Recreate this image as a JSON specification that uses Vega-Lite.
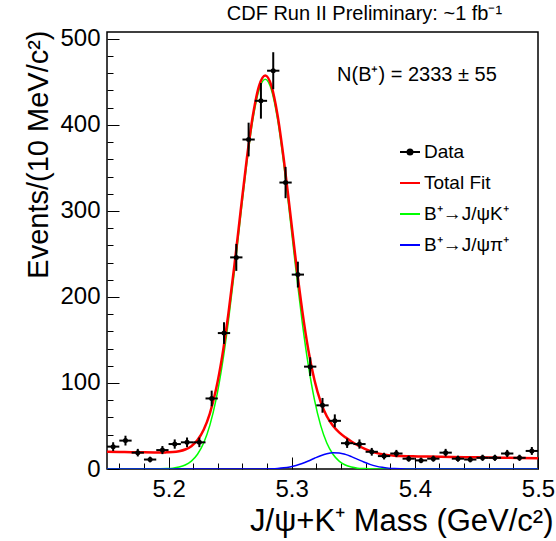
{
  "$schema": "https://vega.github.io/schema/vega-lite/v6.json",
  "width": 431,
  "height": 437,
  "autosize": {"type": "none"},
  "padding": {"left": 107, "top": 32, "right": 18, "bottom": 72},
  "background": "white",
  "config": {
    "font": "Liberation Sans",
    "view": {"stroke": "black", "strokeWidth": 1.5},
    "axis": {"domain": false, "grid": false, "labelFont": "Liberation Sans", "titleFont": "Liberation Sans", "labelColor": "black", "titleColor": "black", "tickColor": "black", "titleFontWeight": "normal", "labelOverlap": false, "tickWidth": 1}
  },
  "resolve": {"axis": {"x": "independent", "y": "independent"}},
  "datasets": {
    "sig": [
      {"m": 5.15, "v": 0}, {"m": 5.1885, "v": 0.07}, {"m": 5.1935, "v": 0.18}, {"m": 5.1985, "v": 0.45}, {"m": 5.2035, "v": 1.0}, {"m": 5.2085, "v": 2.3}, {"m": 5.2135, "v": 4.7}, {"m": 5.2185, "v": 9.2}, {"m": 5.2235, "v": 17.2}, {"m": 5.2285, "v": 30.3}, {"m": 5.2335, "v": 50.7}, {"m": 5.2385, "v": 80.3}, {"m": 5.2435, "v": 120.4}, {"m": 5.2485, "v": 171.1}, {"m": 5.2535, "v": 230.4}, {"m": 5.2585, "v": 293.9}, {"m": 5.2635, "v": 355.1}, {"m": 5.2685, "v": 406.6}, {"m": 5.2735, "v": 440.9}, {"m": 5.2785, "v": 453},
      {"m": 5.2835, "v": 440.9}, {"m": 5.2885, "v": 406.6}, {"m": 5.2935, "v": 355.1}, {"m": 5.2985, "v": 293.9}, {"m": 5.3035, "v": 230.4}, {"m": 5.3085, "v": 171.1}, {"m": 5.3135, "v": 120.4}, {"m": 5.3185, "v": 80.3}, {"m": 5.3235, "v": 50.7}, {"m": 5.3285, "v": 30.3}, {"m": 5.3335, "v": 17.2}, {"m": 5.3385, "v": 9.2}, {"m": 5.3435, "v": 4.7}, {"m": 5.3485, "v": 2.3}, {"m": 5.3535, "v": 1.0}, {"m": 5.3585, "v": 0.45}, {"m": 5.3635, "v": 0.18}, {"m": 5.3685, "v": 0.07}, {"m": 5.3735, "v": 0.03}, {"m": 5.3785, "v": 0}, {"m": 5.5, "v": 0}
    ],
    "pi": [
      {"m": 5.15, "v": 0}, {"m": 5.2685, "v": 0.02}, {"m": 5.2735, "v": 0.06}, {"m": 5.2785, "v": 0.14}, {"m": 5.2835, "v": 0.32}, {"m": 5.2885, "v": 0.68}, {"m": 5.2935, "v": 1.33}, {"m": 5.2985, "v": 2.43}, {"m": 5.3035, "v": 4.11}, {"m": 5.3085, "v": 6.43}, {"m": 5.3135, "v": 9.31}, {"m": 5.3185, "v": 12.48}, {"m": 5.3235, "v": 15.49}, {"m": 5.3285, "v": 17.8}, {"m": 5.3335, "v": 18.93}, {"m": 5.3385, "v": 18.64}, {"m": 5.3435, "v": 17.0}, {"m": 5.3485, "v": 14.34}, {"m": 5.3535, "v": 11.2}, {"m": 5.3585, "v": 8.1}, {"m": 5.3635, "v": 5.42}, {"m": 5.3685, "v": 3.36}, {"m": 5.3735, "v": 1.93}, {"m": 5.3785, "v": 1.02}, {"m": 5.3835, "v": 0.5}, {"m": 5.3885, "v": 0.23}, {"m": 5.3935, "v": 0.1}, {"m": 5.3985, "v": 0.04}, {"m": 5.41, "v": 0.01}, {"m": 5.5, "v": 0}
    ],
    "tot": [
      {"m": 5.15, "v": 20.0}, {"m": 5.16, "v": 19.79}, {"m": 5.17, "v": 19.57}, {"m": 5.18, "v": 19.36}, {"m": 5.1885, "v": 19.22}, {"m": 5.1935, "v": 19.17}, {"m": 5.1985, "v": 19.36}, {"m": 5.2035, "v": 19.65}, {"m": 5.2085, "v": 20.65}, {"m": 5.2135, "v": 22.64}, {"m": 5.2185, "v": 26.53}, {"m": 5.2235, "v": 33.62}, {"m": 5.2285, "v": 45.62}, {"m": 5.2335, "v": 64.41}, {"m": 5.2385, "v": 92.3}, {"m": 5.2435, "v": 130.6}, {"m": 5.2485, "v": 179.59}, {"m": 5.2535, "v": 237.28}, {"m": 5.2585, "v": 299.67}, {"m": 5.2635, "v": 360.17}, {"m": 5.2685, "v": 411.18}, {"m": 5.2735, "v": 445.31}, {"m": 5.2785, "v": 457.39},
      {"m": 5.2835, "v": 445.36}, {"m": 5.2885, "v": 411.41}, {"m": 5.2935, "v": 360.85}, {"m": 5.2985, "v": 301.25}, {"m": 5.3035, "v": 240.32}, {"m": 5.3085, "v": 184.73}, {"m": 5.3135, "v": 138.41}, {"m": 5.3185, "v": 103.07}, {"m": 5.3235, "v": 77.97}, {"m": 5.3285, "v": 61.27}, {"m": 5.3335, "v": 50.2}, {"m": 5.3385, "v": 42.6}, {"m": 5.3435, "v": 36.85}, {"m": 5.3485, "v": 31.99}, {"m": 5.3535, "v": 27.64}, {"m": 5.3585, "v": 24.03}, {"m": 5.3635, "v": 20.94}, {"m": 5.3685, "v": 18.73}, {"m": 5.3735, "v": 17.14}, {"m": 5.3785, "v": 16.12}, {"m": 5.3835, "v": 15.5}, {"m": 5.3885, "v": 15.12}, {"m": 5.3935, "v": 14.88}, {"m": 5.3985, "v": 14.72}, {"m": 5.41, "v": 14.44}, {"m": 5.43, "v": 14.0}, {"m": 5.45, "v": 13.57}, {"m": 5.47, "v": 13.14}, {"m": 5.5, "v": 12.5}
    ],
    "pts": [
      {"m": 5.155, "n": 26, "lo": 20.9, "hi": 31.1, "a": 5.15, "b": 5.16},
      {"m": 5.165, "n": 33, "lo": 27.3, "hi": 38.7, "a": 5.16, "b": 5.17},
      {"m": 5.175, "n": 19, "lo": 14.6, "hi": 23.4, "a": 5.17, "b": 5.18},
      {"m": 5.185, "n": 11, "lo": 7.7, "hi": 14.3, "a": 5.18, "b": 5.19},
      {"m": 5.195, "n": 22, "lo": 17.3, "hi": 26.7, "a": 5.19, "b": 5.2},
      {"m": 5.205, "n": 29, "lo": 23.6, "hi": 34.4, "a": 5.2, "b": 5.21},
      {"m": 5.215, "n": 31, "lo": 25.4, "hi": 36.6, "a": 5.21, "b": 5.22},
      {"m": 5.225, "n": 31, "lo": 25.4, "hi": 36.6, "a": 5.22, "b": 5.23},
      {"m": 5.235, "n": 82, "lo": 72.9, "hi": 91.1, "a": 5.23, "b": 5.24},
      {"m": 5.245, "n": 158, "lo": 145.4, "hi": 170.6, "a": 5.24, "b": 5.25},
      {"m": 5.255, "n": 246, "lo": 230.3, "hi": 261.7, "a": 5.25, "b": 5.26},
      {"m": 5.265, "n": 383, "lo": 363.4, "hi": 402.6, "a": 5.26, "b": 5.27},
      {"m": 5.275, "n": 428, "lo": 407.3, "hi": 448.7, "a": 5.27, "b": 5.28},
      {"m": 5.285, "n": 463, "lo": 441.5, "hi": 484.5, "a": 5.28, "b": 5.29},
      {"m": 5.295, "n": 333, "lo": 314.8, "hi": 351.2, "a": 5.29, "b": 5.3},
      {"m": 5.305, "n": 226, "lo": 211.0, "hi": 241.0, "a": 5.3, "b": 5.31},
      {"m": 5.315, "n": 119, "lo": 108.1, "hi": 129.9, "a": 5.31, "b": 5.32},
      {"m": 5.325, "n": 74, "lo": 65.4, "hi": 82.6, "a": 5.32, "b": 5.33},
      {"m": 5.335, "n": 56, "lo": 48.5, "hi": 63.5, "a": 5.33, "b": 5.34},
      {"m": 5.345, "n": 30, "lo": 24.5, "hi": 35.5, "a": 5.34, "b": 5.35},
      {"m": 5.355, "n": 29, "lo": 23.6, "hi": 34.4, "a": 5.35, "b": 5.36},
      {"m": 5.365, "n": 20, "lo": 15.5, "hi": 24.5, "a": 5.36, "b": 5.37},
      {"m": 5.375, "n": 15, "lo": 11.1, "hi": 18.9, "a": 5.37, "b": 5.38},
      {"m": 5.385, "n": 18, "lo": 13.8, "hi": 22.2, "a": 5.38, "b": 5.39},
      {"m": 5.395, "n": 12, "lo": 8.5, "hi": 15.5, "a": 5.39, "b": 5.4},
      {"m": 5.405, "n": 10, "lo": 6.8, "hi": 13.2, "a": 5.4, "b": 5.41},
      {"m": 5.415, "n": 12, "lo": 8.5, "hi": 15.5, "a": 5.41, "b": 5.42},
      {"m": 5.425, "n": 19, "lo": 14.6, "hi": 23.4, "a": 5.42, "b": 5.43},
      {"m": 5.435, "n": 12, "lo": 8.5, "hi": 15.5, "a": 5.43, "b": 5.44},
      {"m": 5.445, "n": 11, "lo": 7.7, "hi": 14.3, "a": 5.44, "b": 5.45},
      {"m": 5.455, "n": 13, "lo": 9.4, "hi": 16.6, "a": 5.45, "b": 5.46},
      {"m": 5.465, "n": 13, "lo": 9.4, "hi": 16.6, "a": 5.46, "b": 5.47},
      {"m": 5.475, "n": 18, "lo": 13.8, "hi": 22.2, "a": 5.47, "b": 5.48},
      {"m": 5.485, "n": 13, "lo": 9.4, "hi": 16.6, "a": 5.48, "b": 5.49},
      {"m": 5.495, "n": 21, "lo": 16.4, "hi": 25.6, "a": 5.49, "b": 5.5}
    ]
  },
  "layer": [
    {
      "data": {"name": "sig"},
      "mark": {"type": "line", "strokeWidth": 1.5, "interpolate": "monotone", "clip": true},
      "encoding": {
        "x": {"field": "m", "type": "quantitative", "scale": {"domain": [5.15, 5.5], "nice": false, "zero": false},
          "axis": {"orient": "bottom", "values": [5.2, 5.3, 5.4, 5.5], "tickSize": -12, "format": ".1f",
            "labelPadding": 20, "labelFontSize": 24, "labelFlush": false,
            "title": "J/ψ+K⁺ Mass (GeV/c²)", "titleFontSize": 31, "titleX": 446, "titleY": 61, "titleAlign": "right", "titleAnchor": "end", "titleBaseline": "alphabetic"}},
        "y": {"field": "v", "type": "quantitative", "scale": {"domain": [0, 508], "nice": false, "zero": true},
          "axis": {"orient": "left", "values": [0, 100, 200, 300, 400, 500], "tickSize": -12, "format": "d",
            "labelPadding": 19, "labelFontSize": 24,
            "title": "Events/(10 MeV/c²)", "titleFontSize": 29, "titleX": -60, "titleY": -2, "titleAngle": -90, "titleAlign": "right", "titleAnchor": "end", "titleBaseline": "alphabetic"}},
        "color": {"datum": "B⁺→J/ψK⁺", "type": "nominal",
          "scale": {"domain": ["Data", "Total Fit", "B⁺→J/ψK⁺", "B⁺→J/ψπ⁺"], "range": ["#000000", "#ff0000", "#00ff00", "#0000ff"]},
          "legend": {"title": null, "orient": "none", "legendX": 292, "legendY": 109, "symbolType": "stroke", "symbolSize": 400, "symbolStrokeWidth": 2, "labelFontSize": 19, "labelFont": "Liberation Sans", "labelColor": "black", "labelOffset": 3, "rowPadding": 10, "padding": 0,
            "encode": {"symbols": {"update": {
              "shape": {"signal": "datum.value === 'Data' ? 'M-1,0H1M0.25,0A0.25,0.25,0,1,1,-0.25,0A0.25,0.25,0,1,1,0.25,0' : 'stroke'"},
              "fill": {"signal": "datum.value === 'Data' ? '#000000' : 'transparent'"}}}}}}
      }
    },
    {
      "data": {"name": "pi"},
      "mark": {"type": "line", "strokeWidth": 1.5, "interpolate": "monotone", "clip": true},
      "encoding": {
        "x": {"field": "m", "type": "quantitative",
          "axis": {"orient": "bottom", "values": [5.16, 5.18, 5.22, 5.24, 5.26, 5.28, 5.32, 5.34, 5.36, 5.38, 5.42, 5.44, 5.46, 5.48], "tickSize": -6, "labels": false, "title": null}},
        "y": {"field": "v", "type": "quantitative",
          "axis": {"orient": "left", "values": [20, 40, 60, 80, 120, 140, 160, 180, 220, 240, 260, 280, 320, 340, 360, 380, 420, 440, 460, 480], "tickSize": -6, "labels": false, "title": null}},
        "color": {"datum": "B⁺→J/ψπ⁺", "type": "nominal"}
      }
    },
    {
      "data": {"name": "tot"},
      "mark": {"type": "line", "strokeWidth": 2.5, "interpolate": "monotone", "clip": true},
      "encoding": {
        "x": {"field": "m", "type": "quantitative", "axis": null},
        "y": {"field": "v", "type": "quantitative", "axis": null},
        "color": {"datum": "Total Fit", "type": "nominal"}
      }
    },
    {
      "data": {"name": "pts"},
      "mark": {"type": "rule", "color": "black", "strokeWidth": 2, "clip": true},
      "encoding": {
        "x": {"field": "m", "type": "quantitative", "axis": null},
        "y": {"field": "lo", "type": "quantitative", "axis": null},
        "y2": {"field": "hi"}
      }
    },
    {
      "data": {"name": "pts"},
      "mark": {"type": "rule", "color": "black", "strokeWidth": 2, "clip": true},
      "encoding": {
        "x": {"field": "a", "type": "quantitative", "axis": null},
        "x2": {"field": "b"},
        "y": {"field": "n", "type": "quantitative", "axis": null}
      }
    },
    {
      "data": {"name": "pts"},
      "mark": {"type": "point", "filled": true, "color": "black", "size": 25, "opacity": 1, "clip": true},
      "encoding": {
        "x": {"field": "m", "type": "quantitative", "axis": null},
        "y": {"field": "n", "type": "quantitative", "axis": null}
      }
    },
    {
      "data": {"values": [{}]},
      "mark": {"type": "text", "align": "left", "baseline": "middle", "fontSize": 20, "font": "Liberation Sans", "color": "black", "text": "N(B⁺) = 2333 ± 55"},
      "encoding": {
        "x": {"datum": 5.3368, "type": "quantitative", "axis": null},
        "y": {"datum": 458, "type": "quantitative", "axis": null}
      }
    },
    {
      "data": {"values": [{}]},
      "mark": {"type": "text", "align": "right", "baseline": "alphabetic", "fontSize": 20, "font": "Liberation Sans", "color": "black", "text": "CDF Run II Preliminary: ~1 fb⁻¹", "clip": false},
      "encoding": {
        "x": {"datum": 5.4709, "type": "quantitative", "axis": null},
        "y": {"datum": 522, "type": "quantitative", "axis": null}
      }
    }
  ]
}
